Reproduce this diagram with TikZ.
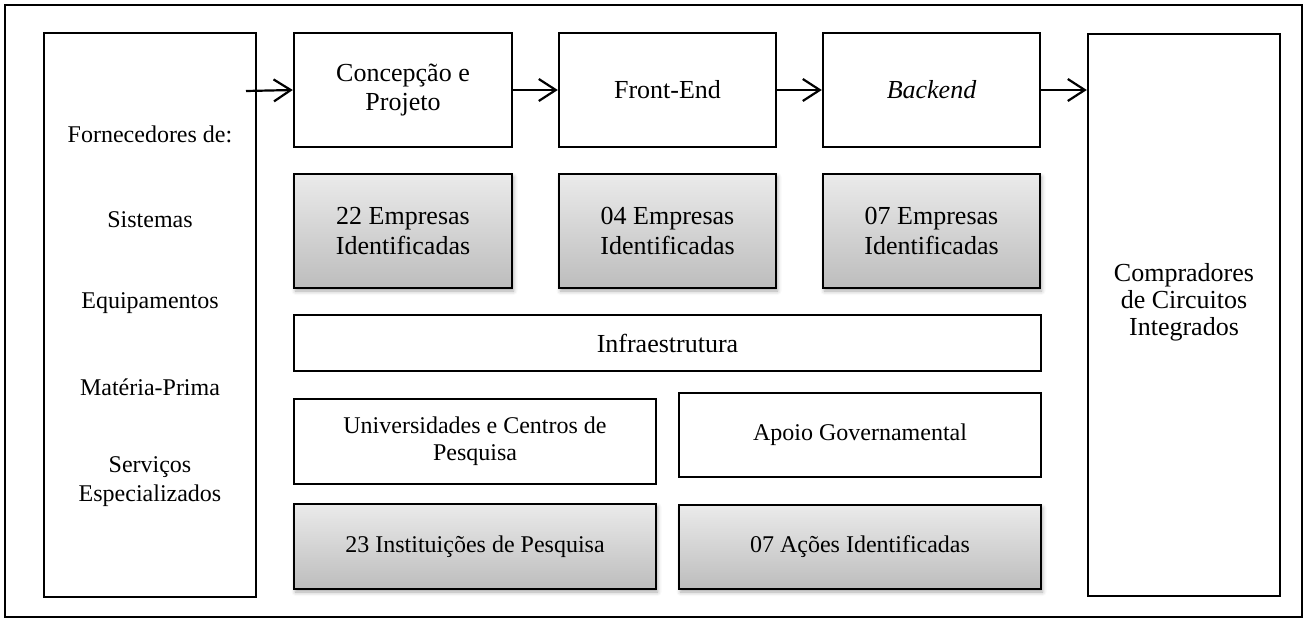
\documentclass[tikz,border=0pt]{standalone}
\usepackage{fontspec}
\setmainfont{Liberation Serif}
\usetikzlibrary{shadows.blur,arrows.meta}

\begin{document}
\begin{tikzpicture}[x=1pt,y=-1pt,
  box/.style={draw=black, line width=2.4pt, fill=white, align=center,
    inner sep=0pt, anchor=center},
  graybox/.style={box, top color=black!8, bottom color=black!26,
    blur shadow={shadow xshift=1.5pt, shadow yshift=-3pt,
      shadow blur radius=4pt, shadow opacity=35}},
  big/.style={font=\fontsize{26}{29.5}\selectfont},
  mid/.style={font=\fontsize{24}{27}\selectfont},
  label/.style={align=center, inner sep=0pt, font=\fontsize{24}{29}\selectfont},
  flow/.style={line width=2.2pt, -{Straight Barb[length=17pt, width=22pt, line width=2.2pt]}}
]
\useasboundingbox (0,0) rectangle (1306,623);

% outer frame
\node[draw=black, line width=2pt, minimum width=1297pt, minimum height=612pt,
  inner sep=0pt] (frame) at (653.5,311) {};

% suppliers and buyers
\node[box, minimum width=212pt, minimum height=564pt] (supp) at (150,315) {};
\node[label] (forn) at (150,134) {Fornecedores de:};
\node[label] (sis)  at (150,220) {Sistemas};
\node[label] (equ)  at (150,303) {Equipamentos};
\node[label] (mat)  at (150,387) {Matéria-Prima};
\node[label] (ser)  at (150,482) {Serviços\\Especializados};

\node[box, minimum width=192pt, minimum height=562pt] (buy) at (1184,315) {};
\node[align=center, inner sep=0pt, font=\fontsize{26}{27}\selectfont] (comp)
  at (1184,302) {Compradores\\de Circuitos\\Integrados};

% production chain
\node[box, big, minimum width=218pt, minimum height=114pt] (conc) at (403,90)
  {Concepção e\\Projeto};
\node[box, big, minimum width=217pt, minimum height=114pt] (front) at (667.5,90)
  {Front-End};
\node[box, big, minimum width=217pt, minimum height=114pt] (back) at (931.5,90)
  {\itshape Backend};

\node[graybox, big, minimum width=218pt, minimum height=114pt] (e22) at (403,231)
  {22 Empresas\\Identificadas};
\node[graybox, big, minimum width=217pt, minimum height=114pt] (e04) at (667.5,231)
  {04 Empresas\\Identificadas};
\node[graybox, big, minimum width=217pt, minimum height=114pt] (e07) at (931.5,231)
  {07 Empresas\\Identificadas};

% support
\node[box, big, minimum width=747pt, minimum height=56pt] (infra) at (667.5,343)
  {Infraestrutura};
\node[box, mid, minimum width=362pt, minimum height=85pt] (univ) at (475,441.5)
  {Universidades e Centros de\\Pesquisa};
\node[box, mid, minimum width=362pt, minimum height=84pt] (gov) at (860,435)
  {Apoio Governamental};
\node[graybox, mid, minimum width=362pt, minimum height=85pt] (inst) at (475,546.5)
  {23 Instituições de Pesquisa};
\node[graybox, mid, minimum width=362pt, minimum height=84pt] (acts) at (860,547)
  {07 Ações Identificadas};

% flow arrows
\coordinate (start) at (246,91);
\draw[flow] (start) -- (conc.west);
\draw[flow] (conc.east) -- (front.west);
\draw[flow] (front.east) -- (back.west);
\draw[flow] (back.east) -- (back.east -| buy.west);
\end{tikzpicture}
\end{document}
